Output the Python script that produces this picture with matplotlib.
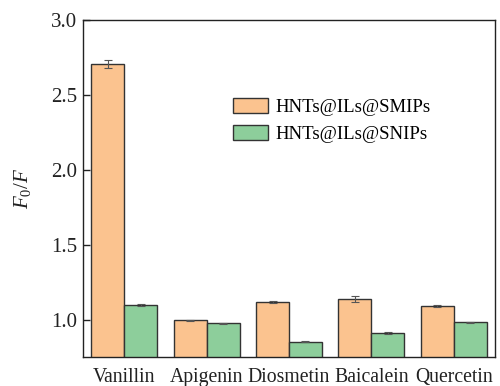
import matplotlib
matplotlib.use("Agg")
import matplotlib.pyplot as plt
import numpy as np

categories = ["Vanillin", "Apigenin", "Diosmetin", "Baicalein", "Quercetin"]
smips = [2.705, 0.995, 1.118, 1.135, 1.092]
smips_err = [0.026, 0.004, 0.008, 0.020, 0.008]
snips = [1.097, 0.975, 0.852, 0.910, 0.983]
snips_err = [0.005, 0.003, 0.003, 0.004, 0.004]
series_names = ["HNTs@ILs@SMIPs", "HNTs@ILs@SNIPs"]

plt.rcParams['font.family'] = ['Liberation Serif', 'DejaVu Serif']
plt.rcParams['mathtext.fontset'] = 'custom'
plt.rcParams['mathtext.rm'] = 'Liberation Serif'
plt.rcParams['mathtext.it'] = 'Liberation Serif:italic'

fig = plt.figure(figsize=(5.0, 3.86), dpi=100)
ax = fig.add_axes([0.166, 0.075, 0.824, 0.873])

x = np.arange(len(categories))
w = 0.4
ekw = dict(ecolor='#555555', elinewidth=0.8, capsize=3, capthick=0.8)
ax.bar(x - w/2, smips, w, yerr=smips_err, color='#FBC38F', edgecolor='#333333',
       linewidth=1.0, label=series_names[0], error_kw=ekw)
ax.bar(x + w/2, snips, w, yerr=snips_err, color='#8DCE9B', edgecolor='#333333',
       linewidth=1.0, label=series_names[1], error_kw=ekw)

ax.set_xlim(-0.5, len(categories) - 0.5)
ax.set_ylim(0.75, 3.0)
ax.set_yticks([1.0, 1.5, 2.0, 2.5, 3.0])
ax.set_yticklabels(["1.0", "1.5", "2.0", "2.5", "3.0"])
ax.set_xticks(x)
ax.set_xticklabels(categories)
ax.tick_params(axis='x', length=0, pad=8, labelsize=14.2, colors='#222222')
ax.tick_params(axis='y', length=5, width=1, labelsize=15, colors='#222222',
               direction='in', pad=4)
for s in ax.spines.values():
    s.set_linewidth(1.0)
    s.set_color('#222222')
ax.set_ylabel(r"$F_0/F$", fontsize=15, color='#222222', labelpad=13)

ax.legend(loc='upper left', bbox_to_anchor=(0.323, 0.818), frameon=False,
          fontsize=13.5, handlelength=1.85, handleheight=0.85, handletextpad=0.4,
          labelspacing=0.45, borderpad=0.4)

fig.savefig("out.png", dpi=100)
